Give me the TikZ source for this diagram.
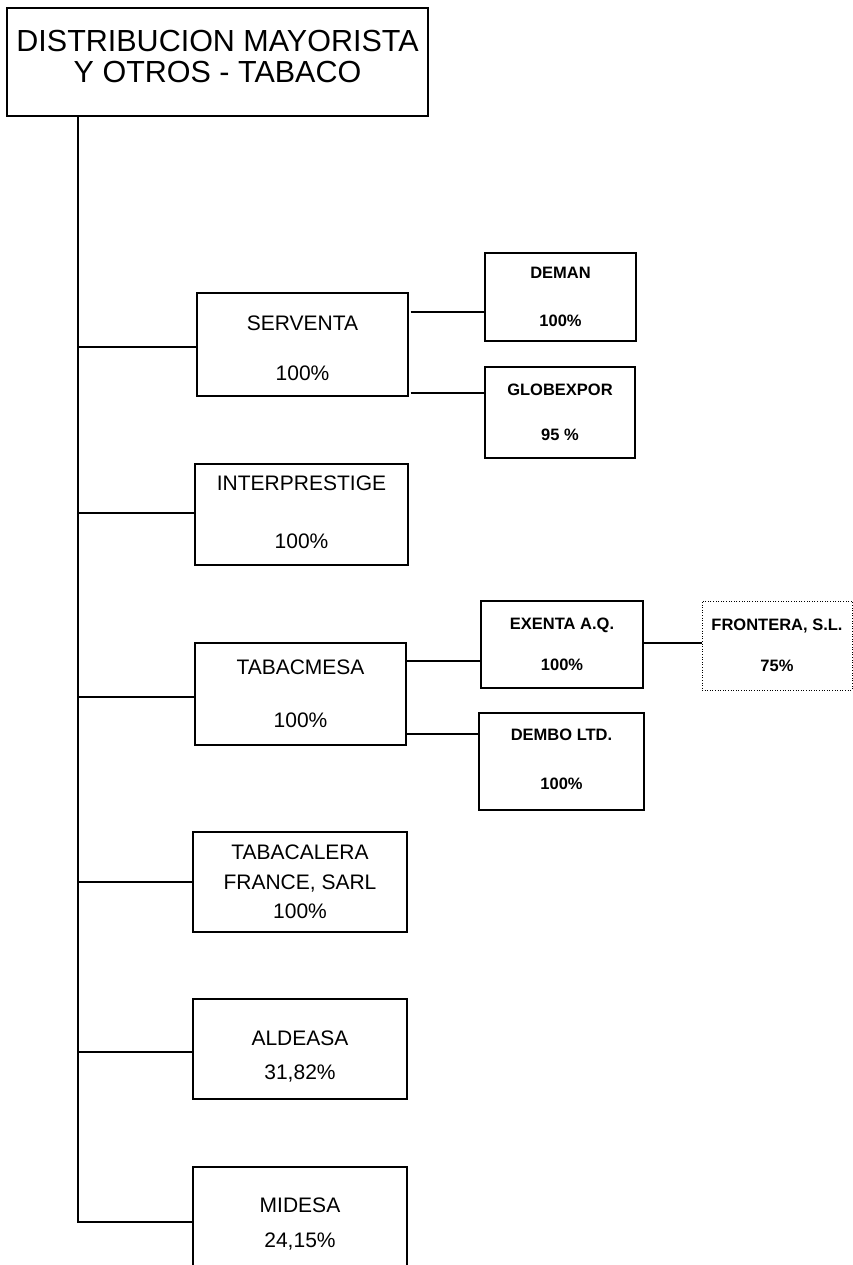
\documentclass[tikz,border=0pt]{standalone}
\usepackage{fontspec}
\setmainfont{Liberation Sans}
\begin{document}
\begin{tikzpicture}[x=1pt,y=-1pt,
  box/.style={draw, line width=1.4pt, inner sep=0pt, align=center},
  dotbox/.style={draw, line width=0.9pt, dash pattern=on 1pt off 1.6pt, inner sep=0pt, align=center},
  conn/.style={line width=1.4pt},
  big/.style={font=\fontsize{30.5}{31}\selectfont},
  mid/.style={font=\fontsize{21}{#1}\selectfont},
  small/.style={font=\bfseries\fontsize{16.5}{#1}\selectfont}]
\useasboundingbox (0,0) rectangle (853,1265);
\clip (0,0) rectangle (853,1265);
\fill[white] (0,0) rectangle (853,1265);

\node[box, big, minimum width=421pt, minimum height=108pt] (top) at (217.5,62) {DISTRIBUCION MAYORISTA\\Y OTROS - TABACO\rule[-12pt]{0pt}{12pt}};

\node[box, mid=50, minimum width=211pt, minimum height=103pt] (serv) at (302.5,344.5) {\rule{0pt}{23pt}SERVENTA\\100\%};
\node[box, small=48, minimum width=151pt, minimum height=88pt] (deman) at (560.5,297) {DEMAN\\100\%};
\node[box, small=45, minimum width=150pt, minimum height=91pt] (glob) at (560,412.5) {GLOBEXPOR\\95 \%};

\node[box, mid=58, minimum width=213pt, minimum height=101pt] (inter) at (301.5,514.5) {INTERPRESTIGE\\100\%\rule[-5pt]{0pt}{5pt}};

\node[box, mid=53, minimum width=211pt, minimum height=102pt] (tabm) at (300.5,694) {TABACMESA\\100\%};
\node[box, small=41, minimum width=162pt, minimum height=87pt] (exenta) at (562,644.5) {EXENTA A.Q.\\100\%};
\node[dotbox, small=41, minimum width=150pt, minimum height=89pt] (front) at (777,645.5) {FRONTERA, S.L.\\75\%};
\node[box, small=49, minimum width=165pt, minimum height=97pt] (dembo) at (561.5,761.5) {DEMBO LTD.\\100\%\rule[-5pt]{0pt}{5pt}};

\node[box, mid=29.5, minimum width=214pt, minimum height=100pt] (tabfr) at (300,882) {TABACALERA\\FRANCE, SARL\\100\%};
\node[box, mid=34, minimum width=214pt, minimum height=100pt] (alde) at (300,1049) {\rule{0pt}{29pt}ALDEASA\\31,82\%};
\node[box, mid=35, minimum width=214pt, minimum height=110pt] (mide) at (300,1222) {\rule{0pt}{19pt}MIDESA\\24,15\%};

% trunk
\coordinate (tend) at (78,1222);
\draw[conn] (top.south -| tend) -- (tend) -- (mide.west);
\draw[conn] ([yshift=-2.5pt]serv.west -| tend) -- ([yshift=-2.5pt]serv.west);
\draw[conn] ([yshift=1.5pt]inter.west -| tend) -- ([yshift=1.5pt]inter.west);
\draw[conn] ([yshift=-3pt]tabm.west -| tend) -- ([yshift=-3pt]tabm.west);
\draw[conn] (tabfr.west -| tend) -- (tabfr.west);
\draw[conn] ([yshift=-3pt]alde.west -| tend) -- ([yshift=-3pt]alde.west);

% second level
\coordinate (s1) at ([yshift=32.5pt,xshift=2pt]serv.east);
\coordinate (s2) at ([yshift=-48.5pt,xshift=2pt]serv.east);
\coordinate (t1) at ([yshift=33pt]tabm.east);
\coordinate (t2) at ([yshift=-40pt]tabm.east);
\coordinate (e1) at ([yshift=1.5pt]exenta.east);
\draw[conn] (s1) -- (deman.west |- s1);
\draw[conn] (s2) -- (glob.west |- s2);
\draw[conn] (t1) -- (exenta.west |- t1);
\draw[conn] (t2) -- (dembo.west |- t2);
\draw[conn] (e1) -- (front.west |- e1);
\end{tikzpicture}
\end{document}
